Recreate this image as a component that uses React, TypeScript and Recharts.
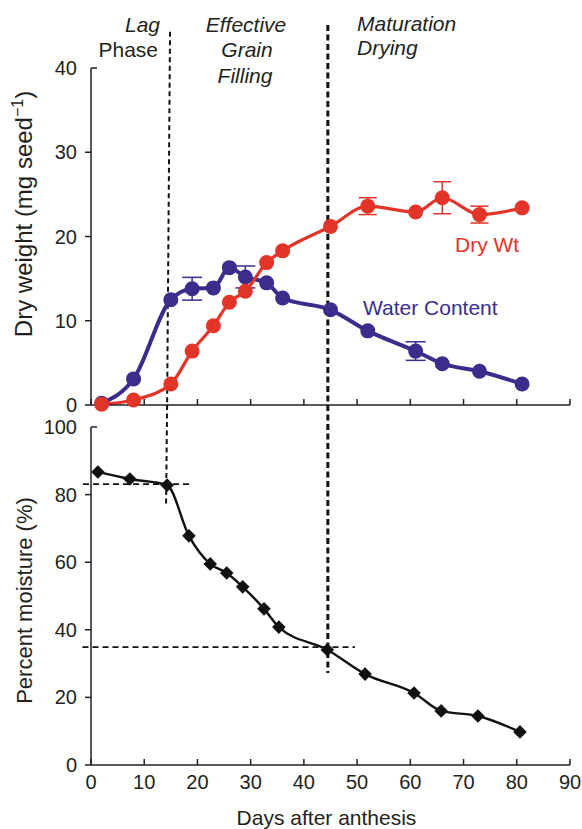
import React from 'react';
import { LineChart, Line, XAxis, YAxis, ReferenceLine, ErrorBar } from 'recharts';

// sampling days (days after anthesis)
const days = [2, 8, 15, 19, 23, 26, 29, 33, 36, 45, 52, 61, 66, 73, 81];
const dryWeight = [0.1, 0.6, 2.5, 6.4, 9.4, 12.2, 13.5, 16.9, 18.3, 21.2, 23.6, 22.9, 24.6, 22.6, 23.4];
const dryWeightErr = [0, 0, 0, 0, 0, 0, 0, 0, 0, 0, 1.0, 0, 1.9, 1.0, 0];
const waterContent = [0.2, 3.1, 12.5, 13.8, 13.9, 16.3, 15.2, 14.5, 12.7, 11.3, 8.8, 6.4, 4.9, 4.0, 2.5];
const waterContentErr = [0, 0, 0, 1.35, 0, 0, 1.3, 0, 0, 0, 0, 1.1, 0, 0, 0];

const moistureDays = [1.3, 7.3, 14.3, 18.4, 22.4, 25.5, 28.5, 32.5, 35.3, 44.4, 51.5, 60.7, 65.8, 72.7, 80.6];
const moisture = [86.7, 84.6, 82.8, 67.8, 59.5, 56.8, 52.7, 46.2, 40.8, 34.1, 26.9, 21.3, 16.0, 14.5, 9.8];

const dayTicks = [0, 10, 20, 30, 40, 50, 60, 70, 80, 90];
const weightTicks = [0, 10, 20, 30, 40];
const moistureTicks = [0, 20, 40, 60, 80, 100];

const AXIS = '#231f20';
const RED = '#e3342a';
const BLUE = '#3a2d8c';
const FONT = '"Liberation Sans", Arial, Helvetica, sans-serif';

const topData = days.map((day, i) => ({
  day,
  dry: dryWeight[i],
  dryErr: dryWeightErr[i],
  water: waterContent[i],
  waterErr: waterContentErr[i],
}));

const bottomData = moistureDays.map((day, i) => ({ day, moisture: moisture[i] }));

// x ticks point up into the plot
const XTickTop = (props: any) => {
  const { x, y } = props;
  return <line x1={x} y1={y} x2={x} y2={y - 6} stroke={AXIS} strokeWidth={1.5} />;
};

const XTickBottom = (props: any) => {
  const { x, y, payload } = props;
  return (
    <g>
      <line x1={x} y1={y} x2={x} y2={y - 6} stroke={AXIS} strokeWidth={1.5} />
      <text x={x} y={y + 24} textAnchor="middle" fontSize={20} fontFamily={FONT} fill={AXIS}>
        {payload.value}
      </text>
    </g>
  );
};

const makeYTick = (top: number) => (props: any) => {
  const { x, y, payload } = props;
  const isTop = payload.value === top;
  return (
    <g>
      <line x1={x} y1={y} x2={isTop ? x + 6 : x - 6} y2={y} stroke={AXIS} strokeWidth={1.5} />
      <text x={x - 14} y={y} dy="0.35em" textAnchor="end" fontSize={20} fontFamily={FONT} fill={AXIS}>
        {payload.value}
      </text>
    </g>
  );
};

const Diamond = (props: any) => {
  const { cx, cy } = props;
  if (cx == null || cy == null) return null;
  const s = 6.8;
  return (
    <polygon
      points={`${cx},${cy - s} ${cx + s},${cy} ${cx},${cy + s} ${cx - s},${cy}`}
      fill="#111"
    />
  );
};

const dash1 = { stroke: '#111', strokeWidth: 2, strokeDasharray: '5 3.5' };
const dash2 = { stroke: '#111', strokeWidth: 3, strokeDasharray: '6 3.5' };
const dashH = { stroke: '#111', strokeWidth: 1.8, strokeDasharray: '6 4' };

export default function App() {
  return (
    <div style={{ position: 'absolute', left: 0, top: 0, width: 582, height: 829, background: '#fff' }}>
      {/* upper panel: dry weight & water content */}
      <div style={{ position: 'absolute', left: 0, top: 0 }}>
        <LineChart width={582} height={416} data={topData} margin={{ top: 68, right: 12, bottom: 0, left: 0 }}>
          <XAxis
            dataKey="day"
            type="number"
            domain={[0, 90]}
            ticks={dayTicks}
            interval={0}
            height={11}
            tickSize={0}
            tickMargin={0}
            tickLine={false}
            axisLine={{ stroke: AXIS, strokeWidth: 1.5 }}
            tick={<XTickTop />}
          />
          <YAxis
            type="number"
            domain={[0, 40]}
            ticks={weightTicks}
            interval={0}
            width={91}
            tickSize={0}
            tickMargin={0}
            tickLine={false}
            axisLine={{ stroke: AXIS, strokeWidth: 1.5 }}
            tick={makeYTick(40)}
          />
          <ReferenceLine
            segment={[{ x: 14.85, y: 44.3 }, { x: 14.3, y: 0 }]}
            ifOverflow="visible"
            {...dash1}
          />
          <ReferenceLine
            segment={[{ x: 44.5, y: 45.1 }, { x: 44.5, y: 0 }]}
            ifOverflow="visible"
            {...dash2}
          />
          <Line
            dataKey="water"
            type="monotone"
            stroke={BLUE}
            strokeWidth={4}
            dot={{ r: 7.5, fill: BLUE, stroke: 'none' }}
            isAnimationActive={false}
          >
            <ErrorBar dataKey="waterErr" direction="y" width={10} stroke={BLUE} strokeWidth={1.5} isAnimationActive={false} />
          </Line>
          <Line
            dataKey="dry"
            type="monotone"
            stroke={RED}
            strokeWidth={3.2}
            dot={{ r: 7.5, fill: RED, stroke: 'none' }}
            isAnimationActive={false}
          >
            <ErrorBar dataKey="dryErr" direction="y" width={9} stroke={RED} strokeWidth={1.5} isAnimationActive={false} />
          </Line>
        </LineChart>
      </div>

      {/* lower panel: percent moisture */}
      <div style={{ position: 'absolute', left: 0, top: 405 }}>
        <LineChart width={582} height={424} data={bottomData} margin={{ top: 22, right: 12, bottom: 0, left: 0 }}>
          <XAxis
            dataKey="day"
            type="number"
            domain={[0, 90]}
            ticks={dayTicks}
            interval={0}
            height={64}
            tickSize={0}
            tickMargin={0}
            tickLine={false}
            axisLine={{ stroke: AXIS, strokeWidth: 1.5 }}
            tick={<XTickBottom />}
          />
          <YAxis
            type="number"
            domain={[0, 100]}
            ticks={moistureTicks}
            interval={0}
            width={91}
            tickSize={0}
            tickMargin={0}
            tickLine={false}
            axisLine={{ stroke: AXIS, strokeWidth: 1.5 }}
            tick={makeYTick(100)}
          />
          <ReferenceLine
            segment={[{ x: 14.3, y: 106.5 }, { x: 14.1, y: 76.3 }]}
            ifOverflow="visible"
            {...dash1}
          />
          <ReferenceLine
            segment={[{ x: 44.5, y: 106.5 }, { x: 44.5, y: 27.2 }]}
            ifOverflow="visible"
            {...dash2}
          />
          <ReferenceLine
            segment={[{ x: -1.5, y: 83.1 }, { x: 18.6, y: 83.1 }]}
            ifOverflow="visible"
            {...dashH}
          />
          <ReferenceLine
            segment={[{ x: -1.6, y: 34.9 }, { x: 49.6, y: 34.9 }]}
            ifOverflow="visible"
            {...dashH}
          />
          <Line
            dataKey="moisture"
            type="monotone"
            stroke="#111"
            strokeWidth={2.4}
            dot={<Diamond />}
            isAnimationActive={false}
          />
        </LineChart>
      </div>

      {/* titles and annotations */}
      <svg
        width={582}
        height={829}
        style={{ position: 'absolute', left: 0, top: 0, pointerEvents: 'none' }}
        fontFamily={FONT}
        fill={AXIS}
      >
        <text x={31.5} y={214} transform="rotate(-90 31.5 214)" textAnchor="middle" fontSize={24}>
          Dry weight (mg seed
          <tspan dy={-9} fontSize={16}>−1</tspan>
          <tspan dy={9}>)</tspan>
        </text>
        <text x={31.5} y={600.5} transform="rotate(-90 31.5 600.5)" textAnchor="middle" fontSize={22}>
          Percent moisture (%)
        </text>
        <text x={326.5} y={825} textAnchor="middle" fontSize={21}>
          Days after anthesis
        </text>

        <g fontSize={21}>
          <text x={160} y={31.5} textAnchor="end" fontStyle="italic">Lag</text>
          <text x={158} y={56.5} textAnchor="end">Phase</text>
          <text x={246} y={31.5} textAnchor="middle" fontStyle="italic">Effective</text>
          <text x={247} y={57} textAnchor="middle" fontStyle="italic">Grain</text>
          <text x={245} y={83} textAnchor="middle" fontStyle="italic">Filling</text>
          <text x={357} y={31} fontStyle="italic">Maturation</text>
          <text x={357} y={55} fontStyle="italic">Drying</text>
          <text x={455} y={252} fill={RED}>Dry Wt</text>
          <text x={363} y={315} fill={BLUE}>Water Content</text>
        </g>
      </svg>
    </div>
  );
}
